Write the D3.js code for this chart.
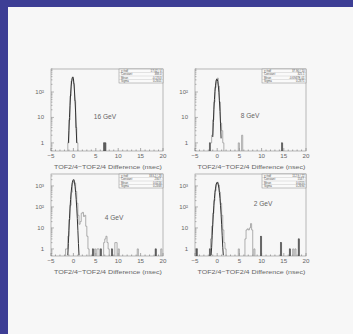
<!DOCTYPE html>
<html lang="en">
<head>
    <meta charset="UTF-8">
    <title>TOF2/4 difference histograms</title>
    <style>
        body { margin: 0; padding: 0; overflow: hidden; }
        text { font-family: "Liberation Sans", Arial, sans-serif; }
    </style>
</head>
<body>
    <script src="https://d3js.org/d3.v7.min.js"></script>
    <script>
        // data: [bin low edge, entries]
        const energies = ["16 GeV", "8 GeV", "4 GeV", "2 GeV"];
        const binWidth = 0.25;
        const xTicks = [-5, 0, 5, 10, 15, 20];
        const statLabels = ["\u03c7\u00b2/ndf", "Constant", "Mean", "Sigma"];

        const hist16 = [[-1.25,1],[-1.0,8],[-0.75,70],[-0.5,270],[-0.25,390],[0,210],[0.25,45],[0.5,4],[0.75,1],[6.75,1],[7.0,1]];
        const dark16 = [[6.75,1],[7.0,1]];
        const fit16 = [[-1.125,1],[-1.0,3],[-0.875,10],[-0.75,30],[-0.625,84],[-0.5,170],[-0.375,284],[-0.25,360],[-0.125,382],[0,340],[0.125,203],[0.25,100],[0.375,43],[0.5,15],[0.625,3.6],[0.75,1]];
        const stat16 = ["17.02  /  4", "388.0", "-0.1703", "0.2601"];

        const hist8 = [[-1.75,1],[-1.5,1],[-1.25,2],[-1.0,8],[-0.75,40],[-0.5,150],[-0.25,300],[0,350],[0.25,170],[0.5,40],[0.75,6],[1.0,3],[1.25,1],[4.75,1],[5.5,2],[14.5,1]];
        const dark8 = [[-1.75,1],[14.5,1]];
        const fit8 = [[-1.0,1.7],[-0.875,6.4],[-0.75,20],[-0.625,50],[-0.5,106],[-0.375,185],[-0.25,267],[-0.125,319],[0,315],[0.125,258],[0.25,175],[0.375,98],[0.5,45],[0.625,17],[0.75,5.6],[0.875,1.5]];
        const stat8 = ["37.90  /  10", "325.1", "-0.6947E-01", "0.2871"];

        const hist4 = [[-1.75,1],[-1.5,1],[-1.25,4],[-1.0,25],[-0.75,120],[-0.5,500],[-0.25,1400],[0,1950],[0.25,1400],[0.5,550],[0.75,150],[1.0,40],[1.25,15],[1.5,20],[1.75,50],[2.0,55],[2.25,35],[2.5,40],[2.75,12],[3.0,4],[3.25,1],[4.25,1],[4.75,1],[5.25,1],[5.5,1],[6.0,1],[6.75,2],[7.0,3],[7.25,4],[7.5,2],[7.75,1],[8.5,1],[9.25,2],[9.5,2],[10.0,1],[14.25,1],[18.25,1],[19.5,1]];
        const dark4 = [[4.25,1],[6.0,1],[8.5,1],[18.25,1]];
        const fit4 = [[-1.25,0.5],[-1.125,1.8],[-1.0,7.7],[-0.875,28],[-0.75,88],[-0.625,228],[-0.5,498],[-0.375,916],[-0.25,1414],[-0.125,1834],[0,2000],[0.125,1834],[0.25,1414],[0.375,916],[0.5,498],[0.625,228],[0.75,88],[0.875,28],[1.0,7.7],[1.125,1.8],[1.25,0.5]];
        const stat4 = ["333.2  /  28", "2307.", "0.0216", "0.2468"];

        const hist2 = [[-4.75,1],[-1.75,1],[-1.5,3],[-1.25,12],[-1.0,50],[-0.75,200],[-0.5,600],[-0.25,1250],[0,1500],[0.25,1100],[0.5,500],[0.75,150],[1.0,40],[1.25,8],[1.5,2],[1.75,1],[4.75,1],[6.25,3],[6.5,8],[6.75,9],[7.0,8],[7.25,10],[7.5,16],[7.75,8],[8.25,1],[9.75,4],[14.25,2],[16.25,1],[17.0,1],[17.5,1],[18.25,3]];
        const dark2 = [[-4.75,1],[-1.75,1],[9.75,4],[14.25,2],[16.25,1],[18.25,3]];
        const fit2 = [[-1.375,0.5],[-1.25,1.2],[-1.125,4.5],[-1.0,15],[-0.875,45],[-0.75,114],[-0.625,250],[-0.5,476],[-0.375,787],[-0.25,1125],[-0.125,1396],[0,1500],[0.125,1396],[0.25,1125],[0.375,787],[0.5,476],[0.625,250],[0.75,114],[0.875,45],[1.0,15],[1.125,4.5],[1.25,1.2],[1.375,0.5]];
        const stat2 = ["112.9  /  22", "1547.", "0.0255", "0.2694"];

        const width = 353, height = 334;
        const svg = d3.select("body").append("svg")
            .attr("width", width)
            .attr("height", height);

        svg.append("rect").attr("width", width).attr("height", height).attr("fill", "#3d3e95");
        svg.append("rect").attr("x", 8).attr("y", 7).attr("width", width - 8).attr("height", height - 7).attr("fill", "#f7f7f7");

        const panels = [
            { left: 51, top: 69, w: 112, h: 82, ymax: 800, decades: [1, 10, 100], hist: hist16, dark: dark16, fit: fit16, stat: stat16, name: energies[0], lx: 105, ly: 119 },
            { left: 195, top: 69, w: 111, h: 82, ymax: 800, decades: [1, 10, 100], hist: hist8, dark: dark8, fit: fit8, stat: stat8, name: energies[1], lx: 250, ly: 118 },
            { left: 51, top: 174, w: 112, h: 82, ymax: 3700, decades: [1, 10, 100, 1000], hist: hist4, dark: dark4, fit: fit4, stat: stat4, name: energies[2], lx: 114, ly: 220 },
            { left: 195, top: 174, w: 111, h: 82, ymax: 3700, decades: [1, 10, 100, 1000], hist: hist2, dark: dark2, fit: fit2, stat: stat2, name: energies[3], lx: 263, ly: 206 }
        ];

        const sup = { 1: "1", 10: "10", 100: "10\u00b2", 1000: "10\u00b3" };

        function histPath(bins, x, y, y0) {
            const p = d3.path();
            let prevEnd = null;
            bins.forEach(function(b) {
                const x0 = x(b[0]), x1 = x(b[0] + binWidth);
                if (prevEnd === null || Math.abs(b[0] - prevEnd) > 1e-6) {
                    if (prevEnd !== null) p.lineTo(x(prevEnd), y0);
                    p.moveTo(x0, y0);
                }
                p.lineTo(x0, y(b[1]));
                p.lineTo(x1, y(b[1]));
                prevEnd = b[0] + binWidth;
            });
            if (prevEnd !== null) p.lineTo(x(prevEnd), y0);
            return p.toString();
        }

        panels.forEach(function(pn) {
            const g = svg.append("g");
            const x = d3.scaleLinear().domain([-5, 20]).range([pn.left, pn.left + pn.w]);
            const y = d3.scaleLog().domain([pn.ymax === 800 ? 0.48 : 0.46, pn.ymax]).range([pn.top + pn.h, pn.top]).clamp(true);
            const y0 = pn.top + pn.h;

            const clipId = "clip" + pn.left + pn.top;
            svg.append("clipPath").attr("id", clipId).append("rect")
                .attr("x", pn.left).attr("y", pn.top).attr("width", pn.w).attr("height", pn.h);

            // frame
            g.append("rect").attr("x", pn.left).attr("y", pn.top).attr("width", pn.w).attr("height", pn.h)
                .attr("fill", "none").attr("stroke", "#8c8c8c").attr("stroke-width", 0.6);

            // x ticks (inside, upward)
            d3.range(-5, 21, 1).forEach(function(v) {
                const major = v % 5 === 0;
                g.append("line").attr("x1", x(v)).attr("x2", x(v))
                    .attr("y1", y0).attr("y2", y0 - (major ? 3 : 1.5))
                    .attr("stroke", "#777").attr("stroke-width", 0.6);
            });
            g.selectAll(".xt").data(xTicks).enter().append("text")
                .attr("x", function(d) { return x(d); })
                .attr("y", y0 + 6.5)
                .attr("text-anchor", "middle")
                .attr("font-size", 6.2)
                .attr("fill", "#666")
                .text(function(d) { return d < 0 ? "\u2212" + Math.abs(d) : d; });

            // y ticks (inside, rightward)
            const yt = [];
            pn.decades.forEach(function(dec) {
                for (let k = 1; k <= 9; k++) {
                    const v = dec * k;
                    if (v <= pn.ymax) yt.push(v);
                }
            });
            yt.push(0.5, 0.6, 0.7, 0.8, 0.9);
            yt.forEach(function(v) {
                const major = pn.decades.indexOf(v) >= 0;
                g.append("line").attr("x1", pn.left).attr("x2", pn.left + (major ? 3 : 1.5))
                    .attr("y1", y(v)).attr("y2", y(v))
                    .attr("stroke", "#777").attr("stroke-width", 0.5);
            });
            g.selectAll(".yt").data(pn.decades).enter().append("text")
                .attr("x", pn.left - 7)
                .attr("y", function(d) { return y(d) + 2; })
                .attr("text-anchor", "end")
                .attr("font-size", 6)
                .attr("fill", "#666")
                .text(function(d) { return sup[d]; });

            const plot = g.append("g").attr("clip-path", "url(#" + clipId + ")");

            // histogram outline
            plot.append("path").attr("d", histPath(pn.hist, x, y, y0))
                .attr("fill", "none").attr("stroke", "#9b9b9b").attr("stroke-width", 0.8);

            // darker single bins
            plot.selectAll(".dk").data(pn.dark).enter().append("rect")
                .attr("x", function(d) { return x(d[0]); })
                .attr("y", function(d) { return y(d[1]); })
                .attr("width", function(d) { return x(d[0] + binWidth) - x(d[0]); })
                .attr("height", function(d) { return y0 - y(d[1]); })
                .attr("fill", "#555").attr("stroke", "#555").attr("stroke-width", 0.5);

            // gaussian fit
            plot.append("path").datum(pn.fit)
                .attr("d", d3.line().x(function(d) { return x(d[0]); }).y(function(d) { return y(d[1]); }))
                .attr("fill", "none").attr("stroke", "#333").attr("stroke-width", 1.0);

            // stats box
            const bw = 44, bh = 14, bx = pn.left + pn.w - bw, by = pn.top;
            const sb = g.append("g");
            sb.append("rect").attr("x", bx).attr("y", by).attr("width", bw).attr("height", bh)
                .attr("fill", "#fafafa").attr("stroke", "#888").attr("stroke-width", 0.5);
            statLabels.forEach(function(lab, i) {
                const ry = by + (i + 1) * bh / 4;
                if (i < 3) sb.append("line").attr("x1", bx).attr("x2", bx + bw).attr("y1", ry).attr("y2", ry)
                    .attr("stroke", "#aaa").attr("stroke-width", 0.3);
                sb.append("text").attr("x", bx + 2).attr("y", ry - 0.8)
                    .attr("font-size", 2.8).attr("fill", "#555").text(lab);
                sb.append("text").attr("x", bx + bw - 1.5).attr("y", ry - 0.8)
                    .attr("text-anchor", "end").attr("font-size", 2.8).attr("fill", "#555").text(pn.stat[i]);
            });

            // energy label
            g.append("text").attr("x", pn.lx).attr("y", pn.ly)
                .attr("text-anchor", "middle").attr("font-size", 6.6).attr("fill", "#666")
                .text(pn.name);

            // axis title
            g.append("text").attr("x", pn.left + pn.w / 2 + 1).attr("y", y0 + 17.5)
                .attr("text-anchor", "middle").attr("font-size", 6.2).attr("fill", "#666")
                .attr("textLength", 108).attr("lengthAdjust", "spacingAndGlyphs")
                .text("TOF2/4\u2212TOF2/4 Difference (nsec)");
        });
    </script>
</body>
</html>
